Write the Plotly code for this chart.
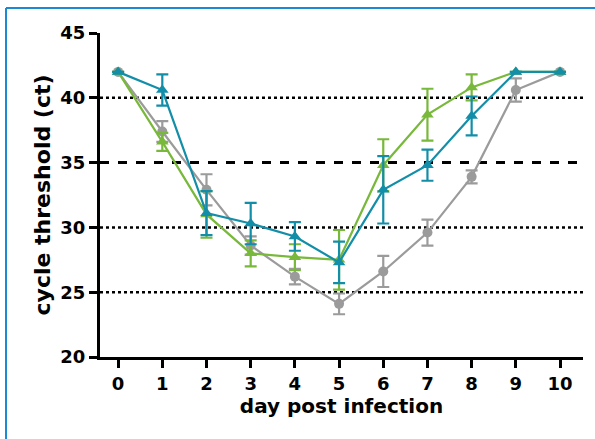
import plotly.graph_objects as go

days = [0, 1, 2, 3, 4, 5, 6, 7, 8, 9, 10]
gray_vals = [42, 37.4, 32.9, 28.6, 26.2, 24.1, 26.6, 29.6, 33.9, 40.6, 42]
gray_err = [0, 0.8, 1.2, 0.7, 0.6, 0.8, 1.2, 1.0, 0.5, 0.9, 0]
green_vals = [42, 36.6, 31.0, 28.0, 27.7, 27.5, 34.8, 38.7, 40.8, 42, 42]
green_err = [0, 0.7, 1.8, 1.0, 1.0, 2.3, 2.0, 2.0, 1.0, 0, 0]
teal_vals = [42, 40.6, 31.1, 30.3, 29.3, 27.3, 32.9, 34.8, 38.6, 42, 42]
teal_err = [0, 1.2, 1.7, 1.6, 1.1, 1.6, 2.6, 1.2, 1.5, 0, 0]

dotted_levels = [40, 30, 25]
dashed_levels = [35]
y_ticks = [20, 25, 30, 35, 40, 45]

FONT = "DejaVu Sans, sans-serif"

fig = go.Figure()

# reference lines
for lv in dotted_levels:
    fig.add_shape(type="line", xref="paper", yref="y", x0=0, x1=1, y0=lv, y1=lv,
                  line=dict(color="black", width=2.5, dash="dot"), layer="below")
for lv in dashed_levels:
    fig.add_shape(type="line", xref="paper", yref="y", x0=0, x1=1, y0=lv, y1=lv,
                  line=dict(color="black", width=3, dash="dash"), layer="below")

series = [
    (gray_vals, gray_err, "#9b9b9b", "circle", 10),
    (green_vals, green_err, "#78b83a", "triangle-up", 11),
    (teal_vals, teal_err, "#138ea8", "triangle-up", 11),
]
for vals, err, col, sym, sz in series:
    fig.add_trace(go.Scatter(
        x=days, y=vals, mode="lines+markers",
        line=dict(color=col, width=2.2),
        marker=dict(color=col, symbol=sym, size=sz),
        error_y=dict(type="data", array=err, visible=True, color=col, thickness=2.2, width=6),
        showlegend=False,
    ))

# blue frame
fig.add_shape(type="line", xref="paper", yref="paper",
              x0=(6 - 100) / 483, x1=(600 - 100) / 483, y0=(357 - 8) / 324, y1=(357 - 8) / 324,
              line=dict(color="#1a8ad4", width=2))
fig.add_shape(type="line", xref="paper", yref="paper",
              x0=(6 - 100) / 483, x1=(6 - 100) / 483, y0=(357 - 8) / 324, y1=(357 - 445) / 324,
              line=dict(color="#1a8ad4", width=2))

fig.update_layout(
    width=595, height=439,
    margin=dict(l=100, r=12, t=33, b=82),
    paper_bgcolor="white", plot_bgcolor="white",
    font=dict(family=FONT, color="black", size=18, weight="bold"),
    xaxis=dict(range=[-0.41, 10.52], tickvals=days, showgrid=False, zeroline=False,
               showline=True, linecolor="black", linewidth=3, automargin=False,
               ticks="outside", ticklen=8, tickwidth=3, tickcolor="black",
               tickfont=dict(family=FONT, size=18, weight="bold"),
               title=dict(text="day post infection", standoff=6,
                          font=dict(family=FONT, size=20, weight="bold"))),
    yaxis=dict(range=[20, 45], tickvals=y_ticks, showgrid=False, zeroline=False,
               showline=True, linecolor="black", linewidth=3, automargin=False,
               ticks="outside", ticklen=8, tickwidth=3, tickcolor="black",
               tickfont=dict(family=FONT, size=18, weight="bold"),
               title=dict(text="cycle threshold (ct)", standoff=4,
                          font=dict(family=FONT, size=22, weight="bold"))),
)

fig.write_html("out.html", config={"displayModeBar": False},
               post_script="document.body.style.margin='0';document.body.style.overflow='hidden';")
